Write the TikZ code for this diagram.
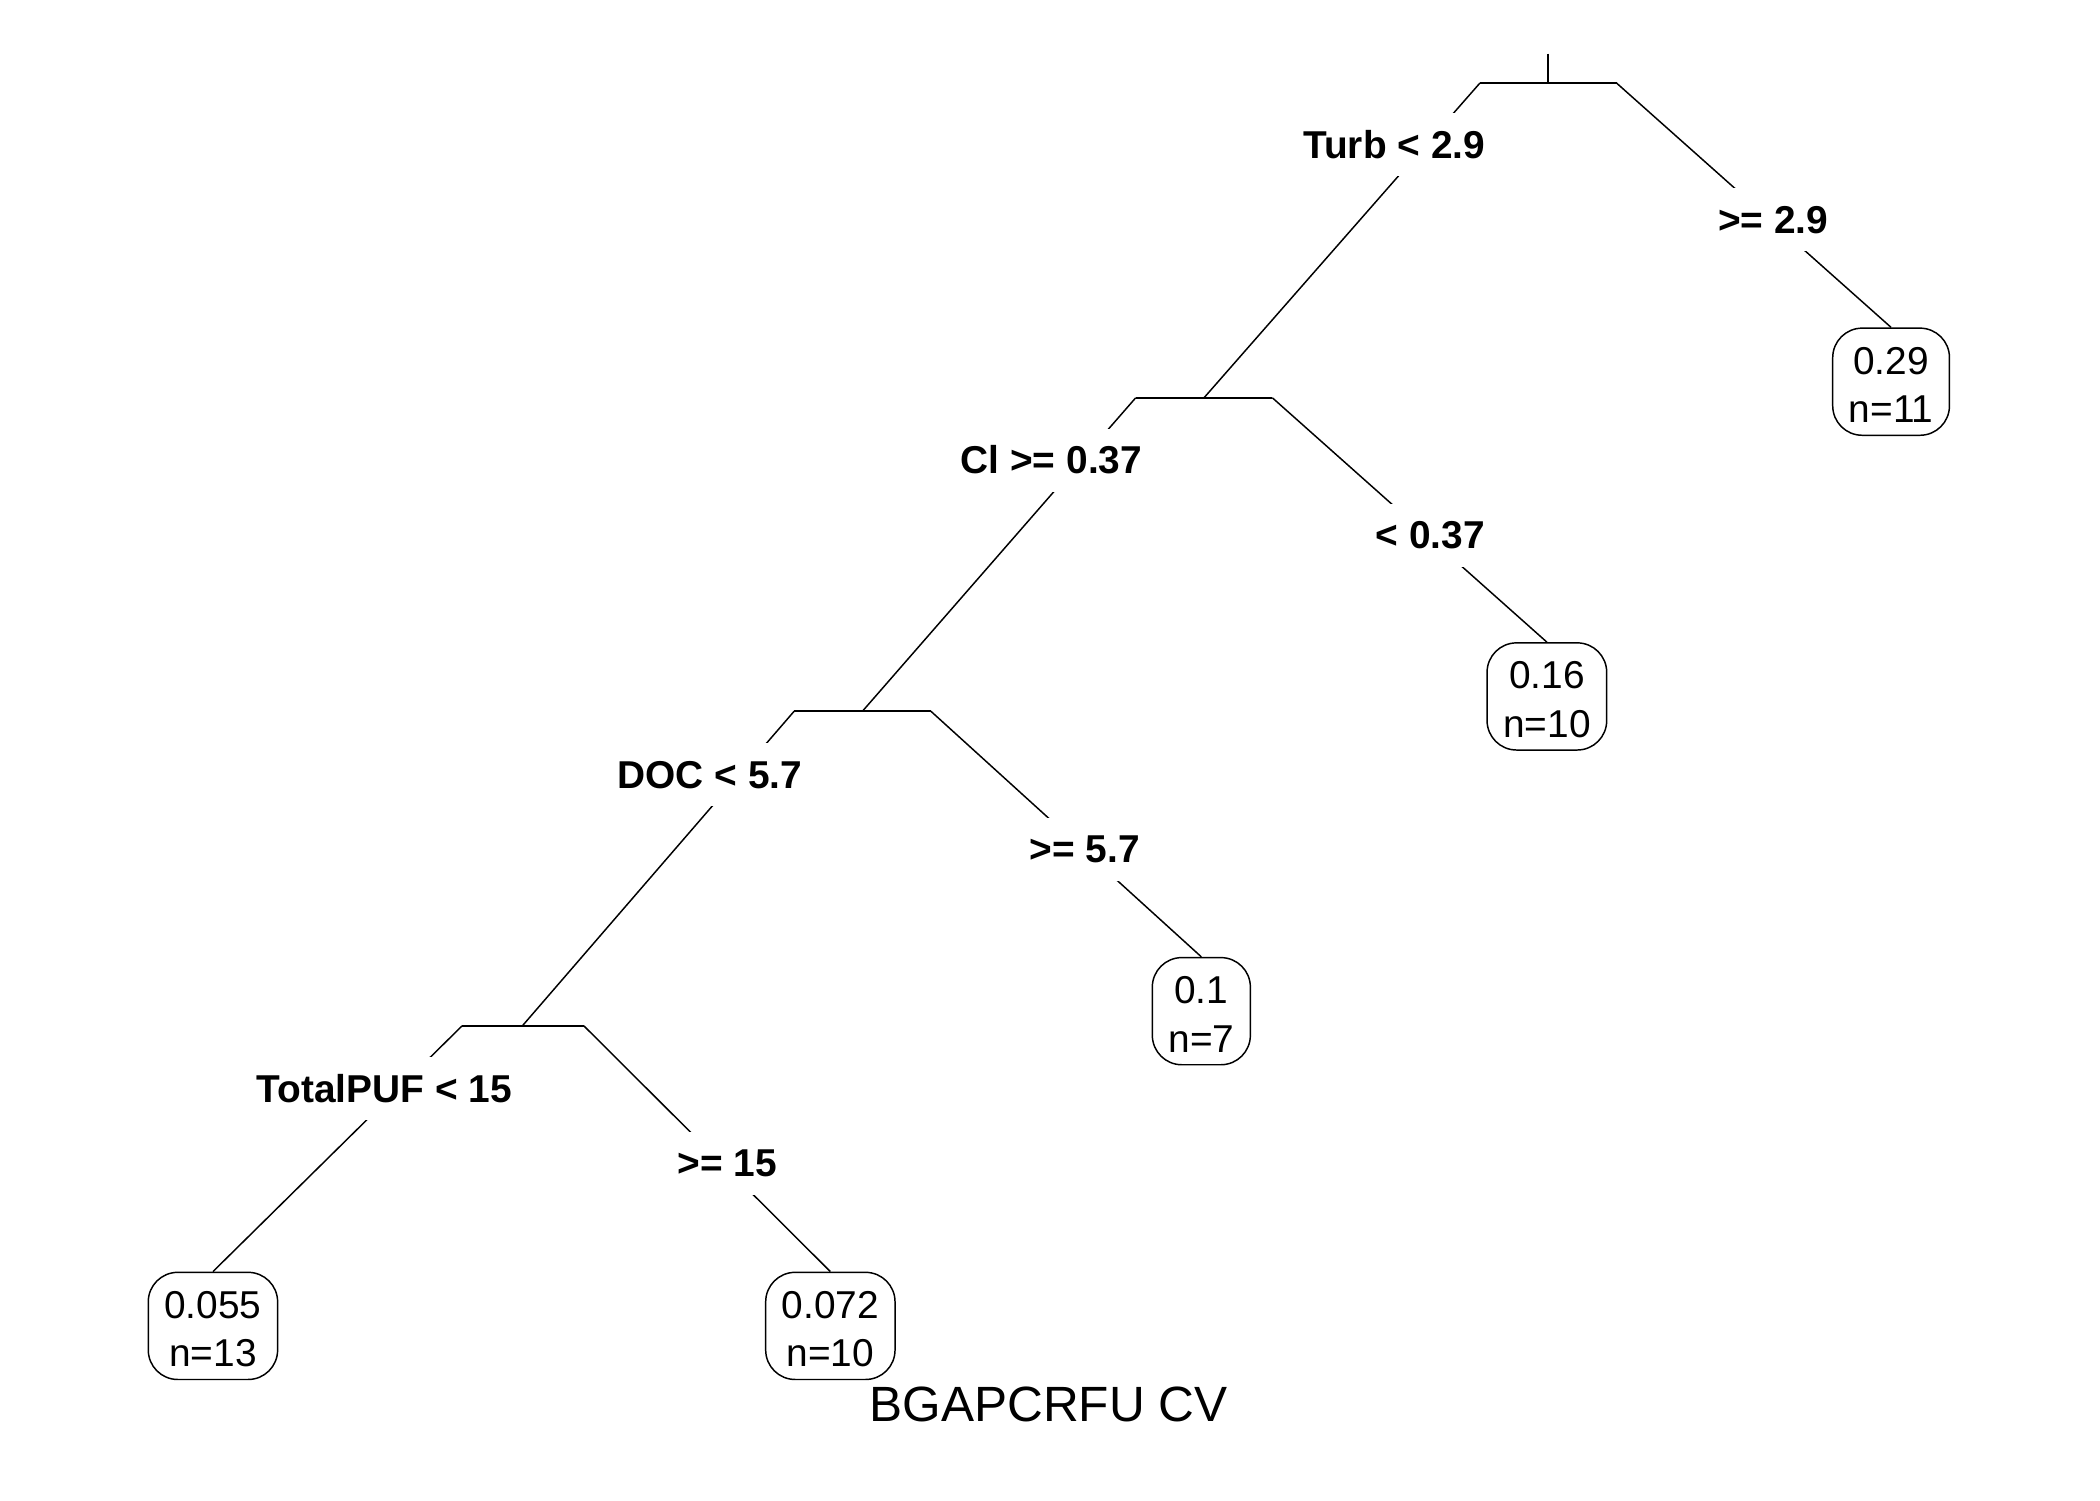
\documentclass[tikz,border=0pt]{standalone}
\usepackage{fontspec}
\setmainfont{Liberation Sans}
\newcommand{\lfstrut}{\rule{0pt}{25pt}}
\begin{document}
\begin{tikzpicture}[x=1pt,y=-1pt,
  edge/.style={line width=1.1pt,black},
  lab/.style={fill=white,inner xsep=2pt,inner ysep=0pt,minimum height=47pt,font=\fontsize{29}{36}\selectfont\bfseries},
  leaf/.style={draw,line width=1.1pt,rounded corners=22pt,fill=white,align=center,inner xsep=12pt,inner ysep=0pt,minimum height=80pt,font=\fontsize{29}{36}\selectfont},
]
\useasboundingbox (0,0) rectangle (1568,1120);
% split coordinates
\coordinate (r0) at (1156,40);
\coordinate (s1) at (1156,62); \coordinate (s1l) at (1105,62); \coordinate (s1r) at (1207,62);
\coordinate (s2) at (899,297); \coordinate (s2l) at (848,297); \coordinate (s2r) at (950,297);
\coordinate (s3) at (644,531); \coordinate (s3l) at (593,531); \coordinate (s3r) at (695,531);
\coordinate (s4) at (390,766); \coordinate (s4l) at (345,766); \coordinate (s4r) at (436,766);
% leaves
\node[leaf] (L1) at (1412,285) {\lfstrut0.29\\n=11};
\node[leaf] (L2) at (1155,520) {\lfstrut0.16\\n=10};
\node[leaf] (L3) at (897,755) {\lfstrut0.1\\n=7};
\node[leaf] (L4) at (159,990) {\lfstrut0.055\\n=13};
\node[leaf] (L5) at (620,990) {\lfstrut0.072\\n=10};
% edges
\draw[edge] (r0) -- (s1);
\draw[edge] (s1l) -- (s1r);
\draw[edge] (s2l) -- (s2r);
\draw[edge] (s3l) -- (s3r);
\draw[edge] (s4l) -- (s4r);
\draw[edge] (s1l) -- (s2);
\draw[edge] (s1r) -- (L1.north);
\draw[edge] (s2l) -- (s3);
\draw[edge] (s2r) -- (L2.north);
\draw[edge] (s3l) -- (s4);
\draw[edge] (s3r) -- (L3.north);
\draw[edge] (s4l) -- (L4.north);
\draw[edge] (s4r) -- (L5.north);
% labels
\node[lab] (t1) at (1041,108) {Turb < 2.9};
\node[lab] (t2) at (1324,164) {>= 2.9};
\node[lab] (t3) at (785,343.5) {Cl >= 0.37};
\node[lab] (t4) at (1068,399.5) {< 0.37};
\node[lab] (t5) at (530,578.5) {DOC < 5.7};
\node[lab] (t6) at (810,634.5) {>= 5.7};
\node[lab] (t7) at (287,812.5) {TotalPUF < 15};
\node[lab] (t8) at (543,868.5) {>= 15};
% title
\node[font=\fontsize{37}{44}\selectfont] (title) at (783,1049) {BGAPCRFU CV};
\end{tikzpicture}
\end{document}
